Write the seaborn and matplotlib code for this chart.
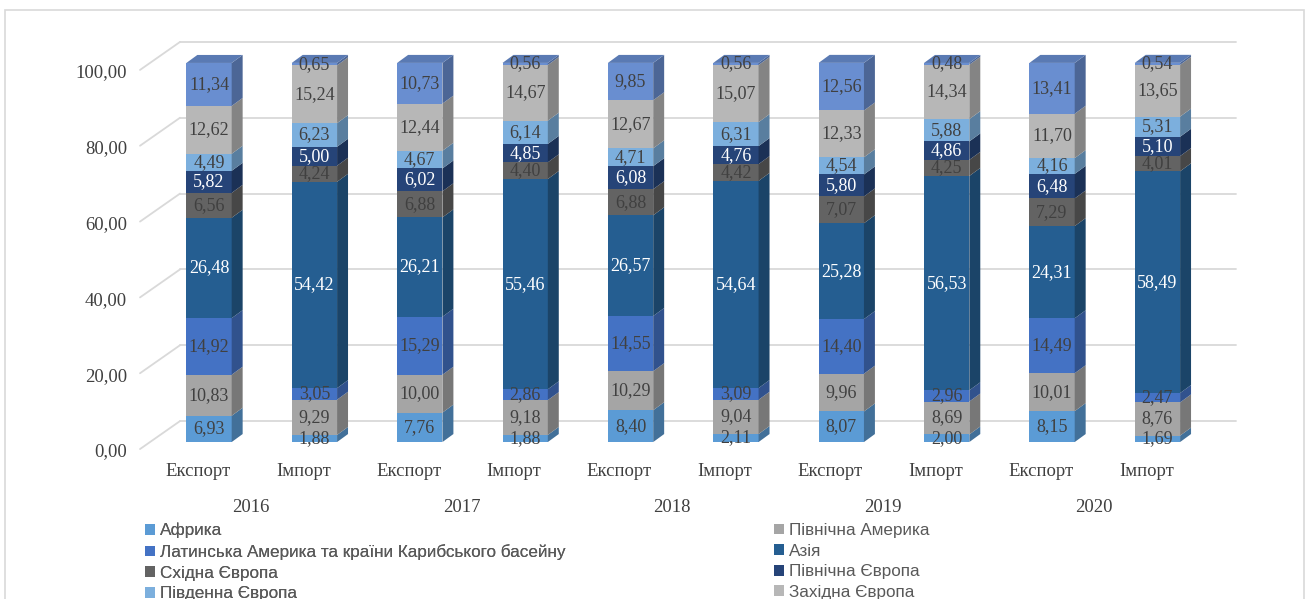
import matplotlib
matplotlib.use("Agg")
import matplotlib.pyplot as plt
import matplotlib.colors as mcolors
from matplotlib.patches import Polygon, Rectangle, Patch
from matplotlib.lines import Line2D
from matplotlib.transforms import ScaledTranslation
import numpy as np
import pandas as pd
import seaborn as sns

# ---- data: share of trade by region, % ----
years = ["2016", "2017", "2018", "2019", "2020"]
flows = ["Експорт", "Імпорт"]

africa          = [6.93, 1.88, 7.76, 1.88, 8.40, 2.11, 8.07, 2.00, 8.15, 1.69]
north_america   = [10.83, 9.29, 10.00, 9.18, 10.29, 9.04, 9.96, 8.69, 10.01, 8.76]
latin_america   = [14.92, 3.05, 15.29, 2.86, 14.55, 3.09, 14.40, 2.96, 14.49, 2.47]
asia            = [26.48, 54.42, 26.21, 55.46, 26.57, 54.64, 25.28, 56.53, 24.31, 58.49]
eastern_europe  = [6.56, 4.24, 6.88, 4.40, 6.88, 4.42, 7.07, 4.25, 7.29, 4.01]
northern_europe = [5.82, 5.00, 6.02, 4.85, 6.08, 4.76, 5.80, 4.86, 6.48, 5.10]
southern_europe = [4.49, 6.23, 4.67, 6.14, 4.71, 6.31, 4.54, 5.88, 4.16, 5.31]
western_europe  = [12.62, 15.24, 12.44, 14.67, 12.67, 15.07, 12.33, 14.34, 11.70, 13.65]
other_regions   = [11.34, 0.65, 10.73, 0.56, 9.85, 0.56, 12.56, 0.48, 13.41, 0.54]

series_names = ["Африка", "Північна Америка",
                "Латинська Америка та країни Карибського басейну", "Азія",
                "Східна Європа", "Північна Європа", "Південна Європа",
                "Західна Європа", "Інші"]
series_values = [africa, north_america, latin_america, asia, eastern_europe,
                 northern_europe, southern_europe, western_europe, other_regions]
series_colors = ["#5B9BD5", "#A5A5A5", "#4472C4", "#255E91", "#636363",
                 "#264478", "#7CAFDD", "#B7B7B7", "#698ED0"]
label_colors = ["#404040", "#404040", "#404040", "white", "#404040",
                "white", "#404040", "#404040", "#404040"]
n_legend = 8

y_ticks = [0, 20, 40, 60, 80, 100]

# ---- styling ----
sns.set_theme(style="white")
serif = ["Liberation Serif", "DejaVu Serif"]
sans = ["Liberation Sans", "DejaVu Sans"]
plt.rcParams["font.family"] = serif
text_gray = "#404040"
grid_gray = "#D9D9D9"

W, H = 1307, 599
fig = plt.figure(figsize=(W / 100, H / 100), dpi=100)
fig.patch.set_facecolor("white")
ax = fig.add_axes([130 / W, (H - 461) / H, (1247 - 130) / W, (461 - 25) / H])

# long table: one row per bar and region
bar_keys = [f"{y} {f}" for y in years for f in flows]
rows = []
for name, vals in zip(series_names, series_values):
    for key, v in zip(bar_keys, vals):
        rows.append({"bar": key, "region": name, "value": v})
df = pd.DataFrame(rows)
df["region"] = pd.Categorical(df["region"], categories=series_names, ordered=True)
df = df.sort_values(["bar", "region"])
df["top"] = df.groupby("bar")["value"].cumsum()
df["bottom"] = df["top"] - df["value"]

bar_width = 0.43
# 3D depth of the boxes (data units)
dx, dy = 0.104, 2.11
# back wall and front plane offsets
wall_dy, wall_x0, wall_x1 = 5.54, -0.275, 9.75
front_dx, front_dy, front_x = -0.105, -1.85, -0.655

# stacked bars: tallest cumulative first, shorter ones painted over them
patches_by_series = {}
for k in range(len(series_names) - 1, -1, -1):
    sub = df[df["region"] == series_names[k]]
    n0 = len(ax.patches)
    sns.barplot(data=sub, x="bar", y="top", order=bar_keys, color=series_colors[k],
                saturation=1, width=bar_width, errorbar=None, linewidth=0,
                edgecolor="none", ax=ax, zorder=3)
    patches_by_series[k] = ax.patches[n0:]


def shade(c, f):
    r, g, b = mcolors.to_rgb(c)
    return (r * f, g * f, b * f)


# side and top faces, value labels
for k, name in enumerate(series_names):
    sub = df[df["region"] == name].set_index("bar").loc[bar_keys]
    for i, key in enumerate(bar_keys):
        p = patches_by_series[k][i]
        xl = p.get_x()
        xr = xl + p.get_width()
        b = sub.loc[key, "bottom"]
        t = sub.loc[key, "top"]
        side = Polygon([(xr, b), (xr + dx, b + dy), (xr + dx, t + dy), (xr, t)],
                       closed=True, facecolor=shade(series_colors[k], 0.72),
                       edgecolor="none", zorder=3)
        ax.add_patch(side)
        if k == len(series_names) - 1:
            top = Polygon([(xl, t), (xr, t), (xr + dx, t + dy), (xl + dx, t + dy)],
                          closed=True, facecolor=shade(series_colors[k], 0.86),
                          edgecolor="none", zorder=3)
            ax.add_patch(top)
        v = sub.loc[key, "value"]
        ax.text(xl + p.get_width() / 2, (b + t) / 2, f"{v:.2f}".replace(".", ","),
                ha="center", va="center", fontsize=13, color=label_colors[k],
                family=serif, zorder=5)

# back wall gridlines and left wall diagonals
for v in y_ticks:
    ax.add_line(Line2D([wall_x0, wall_x1], [v + wall_dy, v + wall_dy],
                       color=grid_gray, lw=1.3, zorder=1))
    ax.add_line(Line2D([front_x, wall_x0], [v + front_dy, v + wall_dy],
                       color=grid_gray, lw=1.3, zorder=1))

ax.set_xlim(-0.75, 9.85)
ax.set_ylim(-5, 110)
ax.set_xlabel("")
ax.set_ylabel("")
for s in ax.spines.values():
    s.set_visible(False)
ax.grid(False)

# y axis labels on the front plane
ax.set_yticks(y_ticks)
ax.set_yticklabels([f"{v:.2f}".replace(".", ",") for v in y_ticks])
ax.tick_params(axis="y", length=0, pad=2.2, labelsize=13.5, labelcolor=text_gray)
shift = ScaledTranslation(0, -8 / 100, fig.dpi_scale_trans)
for lab in ax.get_yticklabels():
    lab.set_transform(lab.get_transform() + shift)
    lab.set_family(serif)

# two-level category axis
ax.set_xticks([])
for i, key in enumerate(bar_keys):
    ax.text(i + front_dx, -7.65, flows[i % 2], ha="center", va="center",
            fontsize=13.5, color=text_gray, family=serif, clip_on=False)
for j, yr in enumerate(years):
    ax.text(2 * j + 0.5 + front_dx, -17.2, yr, ha="center", va="center",
            fontsize=13.5, color=text_gray, family=serif, clip_on=False)

# legend: two columns, filled row by row
handles = [Patch(facecolor=series_colors[k], edgecolor="none") for k in range(n_legend)]
left_idx = [0, 2, 4, 6]
right_idx = [1, 3, 5, 7]
leg_kw = dict(frameon=False, handlelength=0.6, handleheight=0.6,
              handletextpad=0.25, labelspacing=0.33, borderpad=0, borderaxespad=0,
              loc="upper left", labelcolor="#595959",
              prop={"family": sans, "size": 12.3})
leg1 = fig.legend([handles[k] for k in left_idx], [series_names[k] for k in left_idx],
                  bbox_to_anchor=(145 / W, 1 - 523 / H), **leg_kw)
fig.add_artist(leg1)
leg2 = fig.legend([handles[k] for k in right_idx], [series_names[k] for k in right_idx],
                  bbox_to_anchor=(774 / W, 1 - 523 / H), **leg_kw)

# chart frame
fig.patches.append(Rectangle((5 / W, -0.05), 1299 / W, (H - 10) / H + 0.05,
                             transform=fig.transFigure, fill=False,
                             edgecolor=grid_gray, lw=1.2, zorder=0))

fig.savefig("out.png", dpi=100)
